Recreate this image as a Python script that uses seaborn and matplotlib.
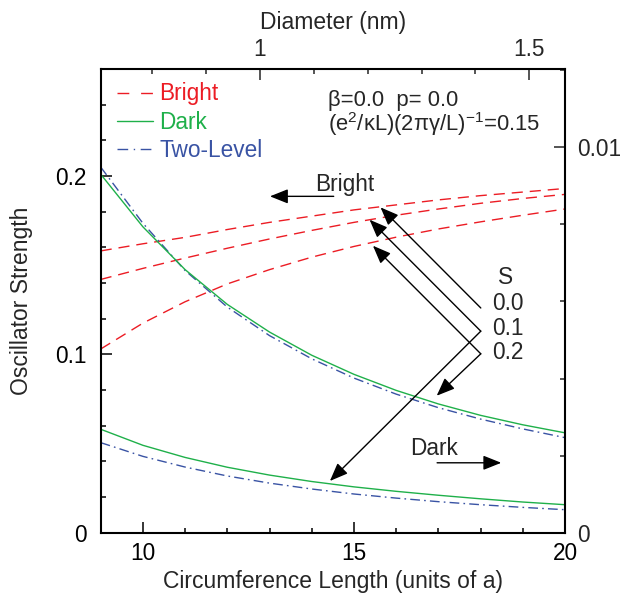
import numpy as np
import pandas as pd
import matplotlib
matplotlib.use("Agg")
import matplotlib.pyplot as plt
from matplotlib.lines import Line2D
from matplotlib.ticker import MultipleLocator, FixedLocator
import seaborn as sns

# Circumference length L (units of the lattice constant a)
length = [9, 10, 11, 12, 13, 14, 15, 16, 17, 18, 19, 20]

# Bright-exciton oscillator strength for S = 0.0, 0.1, 0.2
bright_s00 = [0.158, 0.162, 0.1656, 0.170, 0.174, 0.1775, 0.181, 0.1838, 0.1866, 0.189, 0.191, 0.193]
bright_s01 = [0.142, 0.1482, 0.1540, 0.1595, 0.1647, 0.1695, 0.1740, 0.1780, 0.1815, 0.1847, 0.1874, 0.1897]
bright_s02 = [0.103, 0.1175, 0.1295, 0.1395, 0.1475, 0.1545, 0.1605, 0.1657, 0.1703, 0.1743, 0.178, 0.1815]

# Dark-exciton oscillator strength (S = 0.2 upper, S = 0.1 lower)
dark_s02 = [0.201, 0.1715, 0.1475, 0.128, 0.1125, 0.0995, 0.0888, 0.0798, 0.0722, 0.0658, 0.0605, 0.056]
dark_s01 = [0.058, 0.049, 0.0422, 0.0367, 0.0323, 0.0287, 0.0257, 0.0232, 0.021, 0.019, 0.0172, 0.0157]

# Two-level model
twolevel_s02 = [0.205, 0.1735, 0.147, 0.1265, 0.1105, 0.0975, 0.0867, 0.0777, 0.0701, 0.0637, 0.0582, 0.0533]
twolevel_s01 = [0.0505, 0.0428, 0.0368, 0.0318, 0.0278, 0.0245, 0.0217, 0.0194, 0.0174, 0.0157, 0.0142, 0.0129]

kinds = ["Bright", "Dark", "Two-Level"]
palette = {"Bright": "#ec1c24", "Dark": "#1fb04a", "Two-Level": "#3953a4"}
dash_map = {"Bright": (8, 5), "Dark": "", "Two-Level": (7, 3, 1.2, 3)}

series = [
    ("Bright", "0.0", bright_s00),
    ("Bright", "0.1", bright_s01),
    ("Bright", "0.2", bright_s02),
    ("Two-Level", "0.2", twolevel_s02),
    ("Two-Level", "0.1", twolevel_s01),
    ("Dark", "0.2", dark_s02),
    ("Dark", "0.1", dark_s01),
]
frames = []
for kind, s, vals in series:
    frames.append(pd.DataFrame({"length": length, "strength": vals,
                                "kind": kind, "curve": f"{kind} S={s}"}))
df = pd.concat(frames, ignore_index=True)

sns.set_theme(style="ticks")
plt.rcParams["font.family"] = ["Liberation Sans", "DejaVu Sans"]
plt.rcParams["mathtext.fontset"] = "custom"
plt.rcParams["mathtext.rm"] = "Liberation Sans"
plt.rcParams["mathtext.it"] = "Liberation Sans:italic"

FS = 16.3

W, H = 623, 595
fig = plt.figure(figsize=(W / 100, H / 100), dpi=100)
ax = fig.add_axes([100.7 / W, 1 - 532.7 / H, 464.3 / W, 463.7 / H])

sns.lineplot(data=df, x="length", y="strength", hue="kind", style="kind",
             units="curve", estimator=None, sort=False, palette=palette,
             dashes=dash_map, linewidth=1.0, legend=False, ax=ax)

ax.set_xlim(9, 20)
ax.set_ylim(0, 0.26)

# Ticks on the primary axes
ax.xaxis.set_major_locator(FixedLocator([10, 15, 20]))
ax.xaxis.set_minor_locator(MultipleLocator(1))
ax.yaxis.set_major_locator(FixedLocator([0, 0.1, 0.2]))
ax.yaxis.set_minor_locator(MultipleLocator(0.02))
ax.set_xticklabels(["10", "15", "20"])
ax.set_yticklabels(["0", "0.1", "0.2"])
ax.tick_params(which="both", direction="in", width=1.1, colors="black",
               labelsize=FS, top=False, right=False)
ax.tick_params(which="major", length=7.7)
ax.tick_params(which="minor", length=3.6)
ax.tick_params(axis="y", pad=10)
ax.tick_params(axis="x", pad=7)
for sp in ax.spines.values():
    sp.set_visible(True)
    sp.set_linewidth(1.5)
    sp.set_color("black")

ax.set_xlabel("Circumference Length (units of a)", fontsize=FS + 0.2, labelpad=3)
ax.set_ylabel("Oscillator Strength", fontsize=FS + 0.2, labelpad=16)

# Top axis: tube diameter d = L a / pi with a = 0.246 nm
a_nm = 0.246
top = ax.secondary_xaxis("top", functions=(lambda L: L * a_nm / np.pi,
                                           lambda d: d * np.pi / a_nm))
top.xaxis.set_major_locator(FixedLocator([1.0, 1.5]))
top.xaxis.set_minor_locator(FixedLocator([0.8, 0.9, 1.1, 1.2, 1.3, 1.4]))
top.set_xticklabels(["1", "1.5"])
top.tick_params(which="both", direction="in", width=1.1, labelsize=FS, pad=6)
top.tick_params(which="major", length=7.7)
top.tick_params(which="minor", length=3.6)
top.set_xlabel("Diameter (nm)", fontsize=FS + 0.2, labelpad=6)

# Right axis: rescaled oscillator strength
k_right = 0.04627
right = ax.secondary_yaxis("right", functions=(lambda v: v * k_right,
                                               lambda r: r / k_right))
right.yaxis.set_major_locator(FixedLocator([0.0, 0.01]))
right.yaxis.set_minor_locator(MultipleLocator(0.002))
right.set_yticklabels(["0", "0.01"])
right.tick_params(which="both", direction="in", width=1.1, labelsize=FS, pad=9)
right.tick_params(which="major", length=7.7)
right.tick_params(which="minor", length=3.6)

# Legend with coloured labels
handles = [Line2D([], [], color=palette[k], lw=1.0) for k in kinds]
handles[0].set_dashes((8.5, 8.5))
handles[2].set_dashes((7.7, 4, 1, 4))
ax.legend(handles, kinds, loc="upper left", bbox_to_anchor=(0.036, 0.971),
          frameon=False, fontsize=FS, handlelength=1.55, handletextpad=0.3,
          labelspacing=0.24, borderpad=0, borderaxespad=0, labelcolor="linecolor")

# Model parameters
ax.text(14.39, 0.2394, "β=0.0  p= 0.0", fontsize=15.8, va="baseline", ha="left")
ax.text(14.39, 0.2251, r"(e$^{\mathregular{2}}$/κL)(2πγ/L)$^{\mathregular{-1}}$=0.15",
        fontsize=15.8, va="baseline", ha="left")

# Axis pointers
arrow_kw = dict(arrowstyle="-|>,head_length=0.85,head_width=0.34", color="black",
                lw=1.0, shrinkA=0, shrinkB=0, mutation_scale=13)
ax.text(14.08, 0.1916, "Bright", fontsize=FS, va="baseline", ha="left")
ax.annotate("", xy=(13.01, 0.1886), xytext=(14.52, 0.1886), arrowprops=arrow_kw)
ax.text(16.33, 0.0433, "Dark", fontsize=FS, va="baseline", ha="left")
ax.annotate("", xy=(18.49, 0.0392), xytext=(16.97, 0.0392), arrowprops=arrow_kw)

# S labels and their pointers
ax.text(18.58, 0.1394, "S", fontsize=FS, va="baseline", ha="center")
for lab, yb in [("0.0", 0.1251), ("0.1", 0.1111), ("0.2", 0.0972)]:
    ax.text(18.27, yb, lab, fontsize=FS, va="baseline", ha="left")

pointers = [
    ((18.005, 0.1260), (15.63, 0.1824)),
    ((18.005, 0.1130), (15.37, 0.1755)),
    ((18.005, 0.1130), (14.43, 0.0290)),
    ((18.005, 0.1003), (15.45, 0.1609)),
    ((18.005, 0.1003), (16.96, 0.0768)),
]
for tail, tip in pointers:
    ax.annotate("", xy=tip, xytext=tail, arrowprops=arrow_kw)

fig.savefig("out.png", dpi=100)
